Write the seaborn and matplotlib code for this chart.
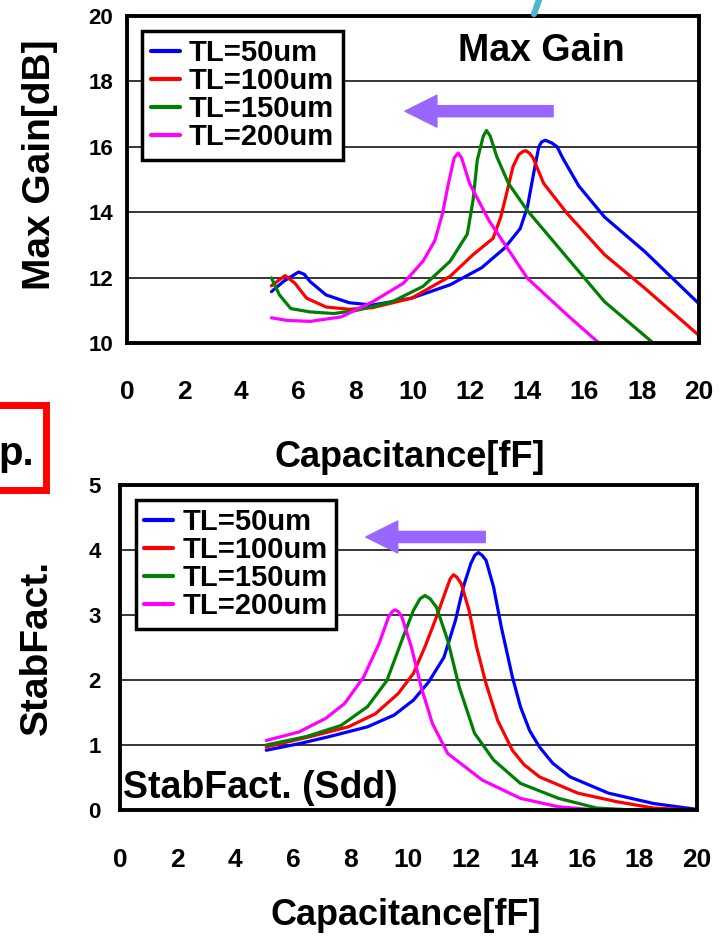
import pandas as pd
import matplotlib.pyplot as plt
import seaborn as sns
from matplotlib.patches import Rectangle
from matplotlib.lines import Line2D

# Data (Capacitance [fF] vs value)
series_names = ["TL=50um", "TL=100um", "TL=150um", "TL=200um"]
colors = ["#0000FF", "#FF0000", "#008000", "#FF00FF"]

# Max Gain [dB]
gain_x_50 = [5.05, 5.5, 6.0, 6.2, 6.4, 6.96, 7.77, 8.59, 9.95, 11.3, 12.4, 13.2, 13.75, 14.0, 14.2, 14.4, 14.5, 14.63, 14.85, 15.04, 15.24, 15.8, 16.7, 18.1, 20.0]
gain_y_50 = [11.57, 11.9, 12.17, 12.1, 11.88, 11.47, 11.23, 11.16, 11.37, 11.78, 12.3, 12.9, 13.5, 14.15, 15.1, 16.0, 16.15, 16.2, 16.12, 16.0, 15.65, 14.8, 13.85, 12.8, 11.2]
gain_x_100 = [5.05, 5.53, 5.87, 6.28, 6.96, 7.77, 8.59, 9.95, 11.3, 12.1, 12.8, 13.07, 13.3, 13.5, 13.7, 13.85, 13.95, 14.08, 14.2, 14.57, 15.4, 16.7, 18.1, 20.0]
gain_y_100 = [11.75, 12.06, 11.83, 11.37, 11.1, 11.03, 11.08, 11.37, 12.04, 12.7, 13.2, 13.85, 14.67, 15.4, 15.76, 15.86, 15.88, 15.8, 15.66, 14.88, 13.95, 12.7, 11.68, 10.23]
gain_x_150 = [5.05, 5.33, 5.73, 6.4, 7.23, 8.04, 9.27, 10.35, 11.3, 11.9, 12.1, 12.25, 12.46, 12.57, 12.7, 12.93, 13.34, 14.0, 15.4, 16.7, 18.4]
gain_y_150 = [11.99, 11.47, 11.05, 10.95, 10.9, 11.0, 11.26, 11.73, 12.5, 13.33, 14.36, 15.6, 16.33, 16.5, 16.33, 15.7, 14.88, 14.05, 12.6, 11.26, 10.0]
gain_x_200 = [5.05, 5.6, 6.41, 7.5, 8.59, 9.67, 10.35, 10.76, 11.03, 11.24, 11.44, 11.58, 11.7, 11.98, 12.66, 14.0, 15.4, 16.5]
gain_y_200 = [10.77, 10.69, 10.66, 10.8, 11.26, 11.83, 12.5, 13.12, 13.95, 14.88, 15.66, 15.81, 15.66, 14.88, 13.74, 11.98, 10.85, 10.0]

# Stability factor
stab_x_50 = [5.07, 6.2, 7.26, 8.58, 9.5, 10.17, 10.7, 11.23, 11.63, 11.9, 12.16, 12.3, 12.42, 12.55, 12.69, 12.95, 13.22, 13.6, 13.88, 14.2, 14.54, 15.0, 15.6, 16.93, 18.5, 20.0]
stab_y_50 = [0.92, 1.02, 1.13, 1.28, 1.46, 1.69, 1.97, 2.35, 2.92, 3.43, 3.79, 3.92, 3.96, 3.92, 3.84, 3.43, 2.81, 2.05, 1.59, 1.22, 0.97, 0.72, 0.51, 0.26, 0.10, 0.01]
stab_x_100 = [5.07, 6.6, 7.92, 8.85, 9.64, 10.17, 10.57, 10.97, 11.3, 11.45, 11.56, 11.68, 11.83, 12.1, 12.36, 12.69, 13.09, 13.6, 14.0, 14.54, 15.87, 17.2, 18.5, 20.0]
stab_y_100 = [0.97, 1.13, 1.28, 1.48, 1.79, 2.1, 2.51, 2.97, 3.38, 3.56, 3.62, 3.58, 3.48, 3.07, 2.51, 1.94, 1.38, 0.92, 0.7, 0.51, 0.26, 0.13, 0.03, 0.0]
stab_x_150 = [5.07, 6.46, 7.66, 8.58, 9.25, 9.77, 10.17, 10.4, 10.57, 10.75, 10.97, 11.36, 11.76, 12.29, 12.95, 13.88, 15.2, 16.53, 17.85]
stab_y_150 = [1.0, 1.13, 1.3, 1.59, 1.99, 2.61, 3.07, 3.25, 3.3, 3.25, 3.12, 2.61, 1.89, 1.18, 0.77, 0.41, 0.18, 0.03, 0.0]
stab_x_200 = [5.07, 6.2, 7.13, 7.79, 8.45, 8.98, 9.31, 9.45, 9.54, 9.65, 9.77, 10.1, 10.44, 10.83, 11.36, 12.56, 13.88, 15.2, 16.53]
stab_y_200 = [1.07, 1.2, 1.41, 1.64, 2.05, 2.56, 2.97, 3.06, 3.08, 3.05, 2.97, 2.51, 1.89, 1.33, 0.87, 0.46, 0.18, 0.05, 0.0]

x_ticks = [0, 2, 4, 6, 8, 10, 12, 14, 16, 18, 20]
gain_ticks = [10, 12, 14, 16, 18, 20]
stab_ticks = [0, 1, 2, 3, 4, 5]


def long_frame(xs, ys):
    parts = []
    for name, x, y in zip(series_names, xs, ys):
        parts.append(pd.DataFrame({"C": x, "v": y, "TL": name}))
    return pd.concat(parts, ignore_index=True)


gain_df = long_frame([gain_x_50, gain_x_100, gain_x_150, gain_x_200],
                     [gain_y_50, gain_y_100, gain_y_150, gain_y_200])
stab_df = long_frame([stab_x_50, stab_x_100, stab_x_150, stab_x_200],
                     [stab_y_50, stab_y_100, stab_y_150, stab_y_200])

sns.set_theme(style="white")
plt.rcParams["font.family"] = ["Liberation Sans", "DejaVu Sans"]
plt.rcParams["font.weight"] = "bold"
plt.rcParams["text.color"] = "black"
plt.rcParams["axes.labelcolor"] = "black"
plt.rcParams["xtick.color"] = "black"
plt.rcParams["ytick.color"] = "black"

palette = dict(zip(series_names, colors))
ARROW = "#9966FF"

fig = plt.figure(figsize=(7.24, 9.43), dpi=100)
ax1 = fig.add_axes([0.1754, 0.6363, 0.790, 0.3467])
ax2 = fig.add_axes([0.1657, 0.1410, 0.797, 0.3447])


def style_axes(ax, df, ylim, yticks, ylabel, ypad, lab_x, lab_y, xlab_y):
    sns.lineplot(data=df, x="C", y="v", hue="TL", palette=palette, sort=False,
                 estimator=None, linewidth=2.3, ax=ax)
    ax.set_xlim(0, 20)
    ax.set_ylim(*ylim)
    ax.set_xticks(x_ticks)
    ax.set_yticks(yticks)
    ax.tick_params(axis="x", direction="in", length=6, width=1.2, pad=27,
                   labelsize=19, color="black", labelcolor="black")
    ax.tick_params(axis="y", direction="in", length=0, pad=ypad, labelsize=16,
                   labelcolor="black")
    for lab in ax.get_xticklabels() + ax.get_yticklabels():
        lab.set_fontweight("bold")
    ax.yaxis.grid(True, color="black", linewidth=1.1)
    ax.xaxis.grid(False)
    for sp in ax.spines.values():
        sp.set_color("black")
        sp.set_linewidth(2.8)
    ax.set_xlabel("Capacitance[fF]", fontsize=26, fontweight="bold", color="black")
    ax.xaxis.set_label_coords(0.495, xlab_y)
    ax.set_ylabel(ylabel, fontsize=28, fontweight="bold", color="black")
    ax.yaxis.set_label_coords(lab_x, lab_y)
    leg = ax.legend(loc="upper left", bbox_to_anchor=(0.027, 0.955), fontsize=21,
                    frameon=True, fancybox=False, framealpha=1, labelspacing=0.0,
                    handlelength=1.0, handletextpad=0.3, borderpad=0.3,
                    borderaxespad=0)
    leg.get_frame().set_edgecolor("black")
    leg.get_frame().set_linewidth(2.5)
    for t in leg.get_texts():
        t.set_fontweight("bold")
        t.set_color("black")
    for h in leg.get_lines():
        h.set_linewidth(3)


style_axes(ax1, gain_df, (10, 20), gain_ticks, "Max Gain[dB]", 10, -0.121, 0.544, -0.297)
style_axes(ax2, stab_df, (0, 5), stab_ticks, "StabFact.", 14, -0.113, 0.50, -0.271)

# annotations
ax1.text(14.5, 18.93, "Max Gain", fontsize=27, fontweight="bold", ha="center", va="center",
         color="black")
ax1.annotate("", xy=(9.72, 17.09), xytext=(14.9, 17.09),
             arrowprops=dict(arrowstyle="simple,head_length=1.15,head_width=1.15,tail_width=0.4",
                             mutation_scale=20, color=ARROW, shrinkA=0, shrinkB=0))
ax2.annotate("", xy=(8.52, 4.2), xytext=(12.66, 4.2),
             arrowprops=dict(arrowstyle="simple,head_length=1.15,head_width=1.15,tail_width=0.4",
                             mutation_scale=20, color=ARROW, shrinkA=0, shrinkB=0))
ax2.text(0.1, 0.185, "StabFact. (Sdd)", fontsize=27, fontweight="bold", ha="left",
         va="baseline", color="black")

# cropped slide decorations
W, H = 724, 943
fig.patches.append(Rectangle((-10 / W, 1 - 490 / H), 56 / W, 85 / H, transform=fig.transFigure,
                             fill=False, edgecolor="#FF0000", linewidth=5))
fig.text(34 / W, 1 - 465 / H, "p.", fontsize=29, fontweight="bold", ha="right", va="baseline",
         color="black")
fig.lines.append(Line2D([539 / W, 534 / W], [1.0, 1 - 14 / H], transform=fig.transFigure,
                        color="#4BB8C8", linewidth=4.5))

fig.savefig("out.png", dpi=100)
